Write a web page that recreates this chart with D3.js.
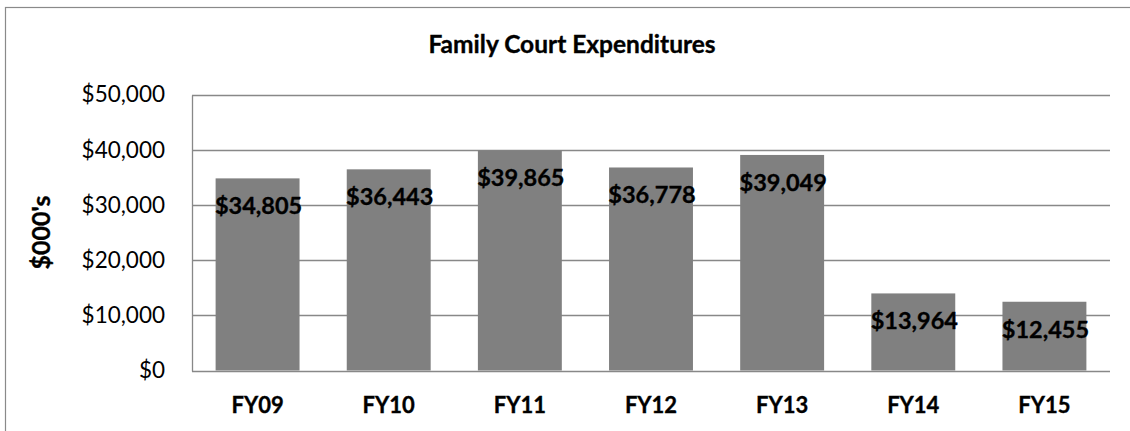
<!DOCTYPE html>
<html>
<head>
<meta charset="utf-8">
<script src="https://cdn.jsdelivr.net/npm/d3@7"></script>
<style>
  body { margin: 0; background: #fff; }
  text { font-family: Lato, "Open Sans", sans-serif; fill: #000; }
  .bold { font-weight: bold; stroke: #000; stroke-width: 0.35px; }
</style>
</head>
<body>
<div id="chart"></div>
<script>
var categories = ["FY09", "FY10", "FY11", "FY12", "FY13", "FY14", "FY15"];
var spending = [34805, 36443, 39865, 36778, 39049, 13964, 12455];
var yTicks = [0, 10000, 20000, 30000, 40000, 50000];

var width = 1130, height = 431;
var plotLeft = 192, plotRight = 1110, plotTop = 94.5, plotBottom = 370.5;

var svg = d3.select("#chart")
	.append("svg")
	.attr("width", width)
	.attr("height", height)

// outer chart border
svg.append("rect")
	.attr("x", 5.5)
	.attr("y", 7.5)
	.attr("width", width)
	.attr("height", height)
	.attr("fill", "none")
	.attr("stroke", "#8a8a8a")
	.attr("stroke-width", 1.2)

var x = d3.scaleBand()
	.domain(categories)
	.range([plotLeft, plotRight])
	.paddingInner(0.36)
	.paddingOuter(0.18)

var y = d3.scaleLinear()
	.domain([0, 50000])
	.range([plotBottom, plotTop])

var fmt = d3.format("$,.0f")

// gridlines
svg.append("g")
	.selectAll("line")
	.data(yTicks)
	.enter()
	.append("line")
	.attr("x1", plotLeft)
	.attr("x2", plotRight)
	.attr("y1", function (d) { return Math.round(y(d)) + 0.5; })
	.attr("y2", function (d) { return Math.round(y(d)) + 0.5; })
	.attr("stroke", "#888")
	.attr("stroke-width", 1.3)

// vertical axis line
svg.append("line")
	.attr("x1", plotLeft + 0.5)
	.attr("x2", plotLeft + 0.5)
	.attr("y1", Math.round(plotTop) + 0.5)
	.attr("y2", Math.round(plotBottom) + 0.5)
	.attr("stroke", "#888")
	.attr("stroke-width", 1.3)

// y tick labels
svg.append("g")
	.selectAll("text")
	.data(yTicks)
	.enter()
	.append("text")
	.attr("x", 165)
	.attr("y", function (d) { return y(d); })
	.attr("dy", "0.35em")
	.attr("text-anchor", "end")
	.style("font-size", "22.5px")
	.text(function (d) { return fmt(d); })

// bars
svg.append("g")
	.selectAll("rect")
	.data(spending)
	.enter()
	.append("rect")
	.attr("x", function (d, i) { return x(categories[i]); })
	.attr("width", x.bandwidth())
	.attr("y", function (d) { return y(d); })
	.attr("height", function (d) { return y(0) - y(d); })
	.attr("fill", "#808080")

// value labels
svg.append("g")
	.selectAll("text")
	.data(spending)
	.enter()
	.append("text")
	.attr("class", "bold")
	.attr("x", function (d, i) { return x(categories[i]) + x.bandwidth() / 2 + 1; })
	.attr("y", function (d) { return y(d) + 36; })
	.attr("text-anchor", "middle")
	.style("font-size", "23.5px")
	.text(function (d) { return fmt(d); })

// category labels
svg.append("g")
	.selectAll("text")
	.data(categories)
	.enter()
	.append("text")
	.attr("class", "bold")
	.attr("x", function (d) { return x(d) + x.bandwidth() / 2; })
	.attr("y", 413)
	.attr("text-anchor", "middle")
	.style("font-size", "22px")
	.text(function (d) { return d; })

// title
svg.append("text")
	.attr("class", "bold")
	.attr("x", 572)
	.attr("y", 53)
	.attr("text-anchor", "middle")
	.style("font-size", "24.5px")
	.text("Family Court Expenditures")

// y axis title
svg.append("text")
	.attr("class", "bold")
	.attr("transform", "translate(50," + (plotTop + plotBottom) / 2 + ") rotate(-90)")
	.attr("text-anchor", "middle")
	.style("font-size", "25px")
	.text("$000's")
</script>
</body>
</html>
